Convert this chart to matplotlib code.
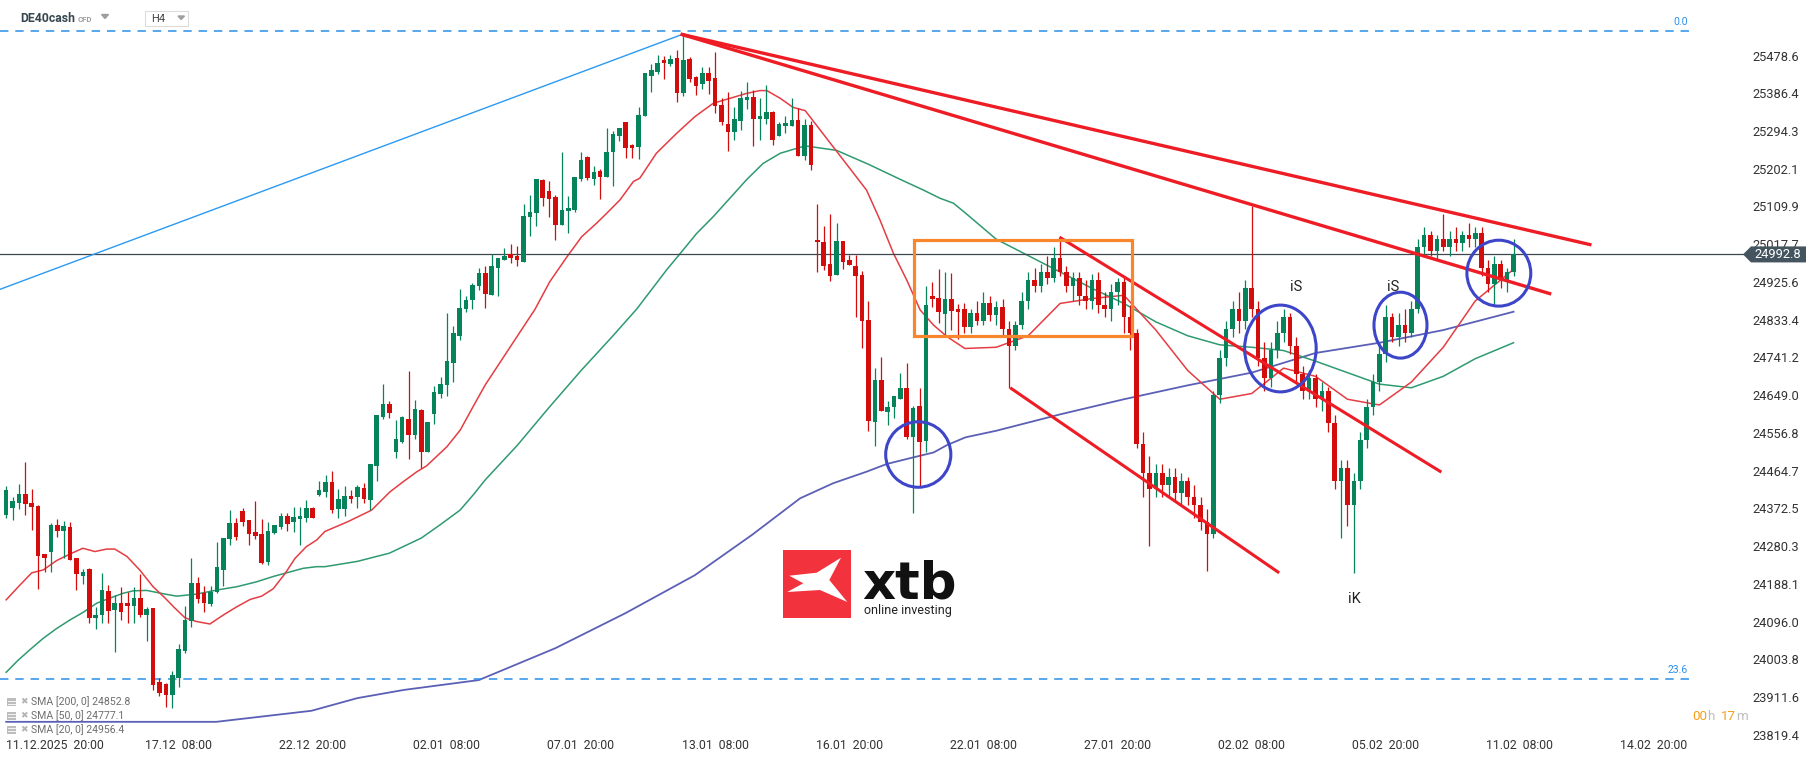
import matplotlib
matplotlib.use("Agg")
import matplotlib.pyplot as plt
from matplotlib.patches import Rectangle, Ellipse, Polygon
import numpy as np

# ---------------- data ----------------
open_ = [24356, 24374, 24386, 24408, 24386, 24378, 24261, 24266, 24332, 24316,
         24327, 24251, 24208, 24225, 24105, 24112, 24171, 24124, 24141, 24141,
         24135, 24154, 24112, 24128, 23948, 23943, 23917, 23959, 24025, 24098,
         24191, 24166, 24139, 24169, 24222, 24298, 24337, 24366, 24344, 24315,
         24310, 24241, 24312, 24328, 24355, 24338, 24347, 24350, 24373, 24405,
         24413, 24436, 24372, 24370, 24403, 24399, 24421, 24393, 24477, 24596,
         24627, 24509, 24534, 24591, 24552, 24613, 24511, 24603, 24653, 24675,
         24728, 24794, 24860, 24882, 24916, 24947, 24894, 24960, 24979, 24995,
         24989, 24975, 25085, 25095, 25175, 25148, 25133, 25065, 25100, 25101,
         25177, 25231, 25177, 25197, 25182, 25243, 25281, 25316, 25260, 25255,
         25331, 25429, 25439, 25468, 25458, 25473, 25388, 25470, 25426, 25408,
         25436, 25424, 25358, 25311, 25293, 25319, 25370, 25377, 25324, 25324,
         25341, 25282, 25307, 25307, 25321, 25234, 25309, 25028, 25024, 24969,
         24943, 25026, 24978, 24965, 24943, 24833, 24584, 24686, 24609, 24621,
         24640, 24667, 24548, 24623, 24538, 24891, 24886, 24848, 24884, 24860,
         24860, 24816, 24850, 24830, 24875, 24845, 24865, 24810, 24770, 24820,
         24880, 24930, 24915, 24950, 24935, 24985, 24950, 24915, 24935, 24890,
         24880, 24930, 24870, 24860, 24900, 24925, 24840, 24800, 24530, 24460,
         24420, 24460, 24430, 24450, 24410, 24440, 24400, 24380, 24340, 24310,
         24650, 24740, 24810, 24860, 24830, 24910, 24860, 24740, 24690, 24760,
         24800, 24840, 24770, 24700, 24660, 24690, 24640, 24660, 24580, 24440,
         24470, 24380, 24440, 24540, 24620, 24680, 24750, 24840, 24790, 24820,
         24800, 24860, 25010, 25040, 25000, 25030, 25010, 25030, 25020, 25040,
         25030, 25045, 24960, 24920, 24970, 24930, 24950]
high = [24426, 24401, 24432, 24486, 24419, 24381, 24262, 24336, 24346, 24341,
        24340, 24252, 24224, 24226, 24132, 24214, 24185, 24161, 24180, 24167,
        24180, 24212, 24131, 24129, 23957, 23947, 23974, 24041, 24134, 24252,
        24206, 24183, 24183, 24291, 24300, 24369, 24349, 24374, 24345, 24390,
        24347, 24339, 24333, 24362, 24361, 24376, 24375, 24393, 24376, 24439,
        24454, 24464, 24420, 24427, 24417, 24430, 24434, 24482, 24601, 24676,
        24635, 24588, 24598, 24708, 24637, 24614, 24584, 24671, 24694, 24849,
        24818, 24909, 24890, 24923, 24960, 24965, 24995, 24984, 25008, 25018,
        25013, 25116, 25138, 25178, 25176, 25172, 25138, 25243, 25136, 25183,
        25243, 25232, 25210, 25202, 25302, 25295, 25302, 25317, 25263, 25353,
        25437, 25458, 25480, 25478, 25480, 25492, 25531, 25475, 25429, 25451,
        25451, 25487, 25374, 25390, 25353, 25392, 25414, 25395, 25375, 25407,
        25342, 25316, 25331, 25375, 25351, 25324, 25318, 25116, 25062, 25092,
        25070, 25026, 24991, 24991, 24952, 24879, 24715, 24743, 24635, 24647,
        24704, 24728, 24623, 24667, 24916, 24926, 24957, 24950, 24947, 24872,
        24875, 24860, 24880, 24900, 24890, 24880, 24885, 24830, 24830, 24900,
        24950, 24960, 24970, 24990, 25010, 25035, 24965, 24950, 24950, 24930,
        24945, 24950, 24900, 24920, 24935, 24940, 24870, 24810, 24560, 24500,
        24480, 24480, 24470, 24470, 24460, 24450, 24430, 24400, 24370, 24660,
        24760, 24830, 24880, 24900, 24930, 25110, 24880, 24780, 24780, 24830,
        24860, 24850, 24790, 24720, 24710, 24700, 24680, 24670, 24600, 24490,
        24490, 24460, 24560, 24640, 24700, 24780, 24870, 24850, 24850, 24860,
        24880, 25030, 25060, 25050, 25040, 25091, 25050, 25060, 25050, 25070,
        25060, 25060, 24980, 24990, 24980, 24960, 25030]
low = [24348, 24344, 24370, 24356, 24320, 24175, 24218, 24218, 24303, 24250,
       24247, 24173, 24188, 24092, 24078, 24092, 24093, 24022, 24100, 24093,
       24093, 24108, 24049, 23929, 23913, 23886, 23884, 23937, 24020, 24083,
       24142, 24120, 24134, 24166, 24183, 24283, 24294, 24329, 24283, 24298,
       24237, 24233, 24310, 24322, 24317, 24315, 24283, 24338, 24348, 24403,
       24401, 24360, 24350, 24355, 24385, 24374, 24386, 24368, 24440, 24590,
       24594, 24496, 24531, 24493, 24542, 24470, 24510, 24579, 24642, 24647,
       24682, 24784, 24851, 24860, 24906, 24861, 24893, 24890, 24978, 24971,
       24965, 24974, 25038, 25062, 25112, 25085, 25028, 25064, 25044, 25096,
       25172, 25175, 25162, 25128, 25181, 25160, 25270, 25228, 25228, 25226,
       25330, 25390, 25433, 25421, 25454, 25364, 25381, 25414, 25383, 25397,
       25385, 25339, 25310, 25246, 25273, 25297, 25347, 25258, 25272, 25311,
       25260, 25281, 25290, 25306, 25233, 25224, 25200, 24951, 24955, 24929,
       24942, 24956, 24967, 24841, 24763, 24562, 24526, 24611, 24576, 24592,
       24640, 24541, 24362, 24426, 24511, 24865, 24825, 24797, 24807, 24785,
       24800, 24800, 24820, 24820, 24830, 24820, 24790, 24667, 24760, 24810,
       24860, 24900, 24900, 24920, 24925, 24940, 24900, 24880, 24870, 24860,
       24860, 24850, 24840, 24830, 24870, 24800, 24760, 24520, 24400, 24280,
       24400, 24400, 24400, 24390, 24380, 24380, 24350, 24320, 24220, 24300,
       24630, 24720, 24790, 24800, 24810, 24840, 24720, 24660, 24670, 24740,
       24780, 24750, 24680, 24640, 24640, 24620, 24610, 24560, 24420, 24300,
       24330, 24215, 24420, 24520, 24600, 24660, 24730, 24780, 24770, 24780,
       24790, 24850, 24990, 24990, 24980, 25000, 24990, 25000, 25000, 25010,
       25010, 24940, 24900, 24870, 24910, 24900, 24940]
close = [24417, 24391, 24408, 24383, 24377, 24256, 24252, 24332, 24318, 24329,
         24247, 24211, 24216, 24104, 24112, 24173, 24122, 24141, 24120, 24135,
         24154, 24112, 24127, 23941, 23921, 23917, 23965, 24029, 24100, 24191,
         24151, 24142, 24169, 24230, 24300, 24337, 24303, 24338, 24311, 24306,
         24238, 24317, 24332, 24354, 24334, 24351, 24354, 24373, 24350, 24417,
         24436, 24368, 24395, 24403, 24396, 24424, 24395, 24481, 24601, 24627,
         24605, 24542, 24595, 24552, 24615, 24511, 24583, 24657, 24676, 24732,
         24801, 24862, 24882, 24918, 24947, 24896, 24965, 24983, 24990, 24985,
         24978, 25087, 25096, 25177, 25131, 25129, 25065, 25101, 25106, 25182,
         25224, 25180, 25194, 25182, 25243, 25287, 25302, 25253, 25253, 25333,
         25436, 25443, 25461, 25461, 25470, 25388, 25468, 25421, 25403, 25436,
         25417, 25356, 25317, 25293, 25324, 25375, 25377, 25324, 25331, 25341,
         25272, 25311, 25314, 25321, 25234, 25309, 25212, 25022, 24965, 24940,
         25026, 24975, 24967, 24939, 24829, 24587, 24686, 24611, 24620, 24647,
         24667, 24548, 24618, 24535, 24869, 24883, 24851, 24884, 24855, 24853,
         24816, 24850, 24830, 24875, 24845, 24865, 24810, 24770, 24820, 24880,
         24930, 24915, 24950, 24935, 24985, 24950, 24915, 24935, 24890, 24880,
         24930, 24870, 24860, 24900, 24925, 24840, 24800, 24530, 24460, 24420,
         24460, 24430, 24450, 24410, 24440, 24400, 24380, 24340, 24310, 24650,
         24740, 24810, 24860, 24830, 24910, 24860, 24740, 24690, 24760, 24800,
         24840, 24770, 24700, 24660, 24690, 24640, 24660, 24580, 24440, 24470,
         24380, 24440, 24540, 24620, 24680, 24750, 24840, 24790, 24820, 24800,
         24860, 25010, 25040, 25000, 25030, 25010, 25030, 25020, 25040, 25030,
         25045, 24960, 24920, 24970, 24930, 24950, 24992.8]

# moving averages (candle index, value)
sma20_x = [0, 1.9, 4, 5.8, 7.9, 10, 12, 13.9, 15.7, 17, 18.9, 20.9, 23, 24.9, 26.2, 28, 29.8,
           31.9, 34, 36.1, 38.2, 40, 41.8, 43.7, 45.2, 47, 48.6, 49.9, 53.5, 57.2, 60.1, 62.2,
           64.3, 65.8, 69, 71.1, 73.1, 75, 82.8, 85.1, 87.8, 90.1, 92.5, 94, 96.1, 98.2, 99.2,
           101.8, 105, 107.8, 110.7, 113.3, 115.9, 118, 119.1, 121.2, 123.2, 125.1, 130, 134.7,
           136.8, 138.9, 141, 143.1, 145.2, 147.3, 150.1, 155, 160, 165, 170, 175, 180, 185,
           190, 195, 200, 205, 210, 215, 220, 225, 230, 236]
sma20_y = [24149, 24181, 24215, 24222, 24245, 24261, 24275, 24267, 24273, 24273, 24255, 24222,
           24181, 24153, 24132, 24105, 24096, 24090, 24112, 24132, 24150, 24158, 24176, 24214,
           24250, 24279, 24295, 24316, 24340, 24368, 24413, 24438, 24462, 24476, 24523, 24564,
           24621, 24674, 24859, 24926, 24987, 25036, 25070, 25093, 25126, 25171, 25179, 25240,
           25289, 25329, 25362, 25374, 25386, 25393, 25393, 25374, 25352, 25344, 25245, 25150,
           25077, 24996, 24930, 24857, 24820, 24792, 24763, 24766, 24794, 24873, 24885, 24893,
           24808, 24709, 24639, 24653, 24715, 24695, 24639, 24625, 24681, 24766, 24879, 24956.4]
sma50_x = [0, 1.9, 4, 5.8, 7.9, 10, 12, 14.2, 16.2, 18.3, 19.9, 22, 23.6, 24.9, 26.7, 29.8, 33,
           36.1, 39.2, 41.8, 43.9, 46.5, 48.6, 49.9, 55, 60, 65, 68, 71.05, 73.1, 75, 80, 85, 90,
           95, 98.7, 101.1, 103.4, 106, 108.1, 110.7, 113.3, 115.9, 118.5, 121.2, 123.8, 125.1,
           130, 135, 140, 143.6, 146.2, 148.3, 150.1, 155, 160, 165, 170, 175, 180, 185, 190,
           195, 200, 205, 210, 215, 220, 225, 230, 236]
sma50_y = [23972, 24002, 24031, 24055, 24079, 24100, 24118, 24141, 24153, 24165, 24171, 24172,
           24167, 24163, 24158, 24163, 24173, 24181, 24193, 24206, 24215, 24226, 24230, 24230,
           24243, 24263, 24300, 24333, 24368, 24405, 24442, 24526, 24619, 24709, 24794, 24859,
           24908, 24955, 25004, 25044, 25085, 25130, 25175, 25215, 25240, 25252, 25258, 25247,
           25213, 25176, 25150, 25130, 25118, 25095, 25030, 24990, 24950, 24910, 24873, 24828,
           24794, 24772, 24766, 24758, 24732, 24704, 24676, 24667, 24695, 24738, 24777.1]
sma200_x = [0, 32.9, 47.8, 55, 62.3, 74, 86, 96.9, 107.8, 116.8, 124.3, 129.5, 134.7, 137.9,
            141.5, 145.2, 147.3, 150.2, 155, 165, 175, 185, 195, 205, 215, 225, 236]
sma200_y = [23851, 23851, 23878, 23909, 23929, 23953, 24031, 24116, 24209, 24308, 24397, 24434,
            24462, 24481, 24495, 24509, 24527, 24546, 24562, 24602, 24639, 24673, 24704, 24752,
            24777, 24808, 24852.8]

sma_names = ["SMA [200, 0]", "SMA [50, 0]", "SMA [20, 0]"]

# analysis drawings (candle index, price)
trend_blue = ([-5, 105.8], [24884, 25530])
fan_red_1 = ([105.6, 248.2], [25531, 25016])
fan_red_2 = ([105.6, 241.9], [25531, 24896])
channel_up = ([164.9, 224.7], [25035, 24461])
channel_dn = ([157.2, 199.3], [24667, 24215])
box_orange = (142.2, 176.3, 24794, 25027)
circles = [(142.8, 24504, 10.2, 160), (199.5, 24763, 11.2, 212),
           (218.3, 24820, 8.3, 161), (233.7, 24947, 10.0, 161)]
marks = [("iS", 202.0, 24912), ("iS", 217.1, 24912), ("iK", 211.1, 24152)]
fib_levels = [25537.4, 23955.6]
fib_labels = ["0.0", "23.6"]
last_price = 24992.8

xtick_pos = [0, 27, 48, 69, 90, 111, 132, 153, 174, 195, 216, 237, 258]
xtick_lab = ["11.12.2025  20:00", "17.12  08:00", "22.12  20:00", "02.01  08:00", "07.01  20:00",
             "13.01  08:00", "16.01  20:00", "22.01  08:00", "27.01  20:00", "02.02  08:00",
             "05.02  20:00", "11.02  08:00", "14.02  20:00"]
ytick_vals = [25478.6, 25386.4, 25294.3, 25202.1, 25109.9, 25017.7, 24925.6, 24833.4, 24741.2,
              24649.0, 24556.8, 24464.7, 24372.5, 24280.3, 24188.1, 24096.0, 24003.8, 23911.6,
              23819.4]

# ---------------- style / layout ----------------
GREEN = "#06835a"
RED = "#d30c0c"
W, H = 1815, 761
X0, DX = 6.2, 6.387
P_TOP, P_BOT = 25614.3, 23755.3
AX_RIGHT = 1745

plt.rcParams["font.family"] = ["Roboto", "DejaVu Sans"]

fig = plt.figure(figsize=(W / 100, H / 100), dpi=100)
fig.patch.set_facecolor("white")
ax = fig.add_axes([0, 0, AX_RIGHT / W, 1])
ax.set_xlim((0 - X0) / DX, (AX_RIGHT - X0) / DX)
ax.set_ylim(P_BOT, P_TOP)
for s in ax.spines.values():
    s.set_visible(False)

o = np.array(open_, float); h = np.array(high, float)
l = np.array(low, float); c = np.array(close, float)
idx = np.arange(len(c))
cols = np.where(c >= o, GREEN, RED)

# SMAs
ax.plot(sma200_x, sma200_y, color="#5b60b6", lw=1.3, zorder=2)
ax.plot(sma50_x, sma50_y, color="#2f9a70", lw=1.1, zorder=2)
ax.plot(sma20_x, sma20_y, color="#e43d43", lw=1.1, zorder=2)

# candles
ax.vlines(idx, l, h, colors=cols, lw=0.9, zorder=3)
ax.bar(idx, np.maximum(np.abs(c - o), 2.0), bottom=np.minimum(o, c), width=0.72,
       color=cols, linewidth=0, zorder=4)

# fib levels
for lv in fib_levels:
    ax.hlines(lv, (0 - X0) / DX, 263.6, colors="#2a8fe8", lw=1.1,
              linestyles=(0, (5.5, 4.5)), zorder=2)

# current price line
ax.axhline(last_price, color="#3b4850", lw=0.9, zorder=2.5)

# drawings
ax.plot(*trend_blue, color="#2b9af3", lw=1.0, zorder=5)
ax.plot(*fan_red_1, color="#ee1c25", lw=2.4, zorder=6, solid_capstyle="butt")
ax.plot(*fan_red_2, color="#ee1c25", lw=2.4, zorder=6, solid_capstyle="butt")
ax.plot(*channel_up, color="#ee1c25", lw=2.2, zorder=6, solid_capstyle="butt")
ax.plot(*channel_dn, color="#ee1c25", lw=2.2, zorder=6, solid_capstyle="butt")
bx0, bx1, by0, by1 = box_orange
ax.add_patch(Rectangle((bx0, by0), bx1 - bx0, by1 - by0, fill=False,
                       edgecolor="#f7862c", lw=2.3, zorder=6))
for cx, cy, cw, ch in circles:
    ax.add_patch(Ellipse((cx, cy), cw, ch, fill=False, edgecolor="#3d45c8", lw=2.2, zorder=7))
for t, mx, my in marks:
    ax.text(mx, my, t, fontsize=10.5, color="#222222", ha="center", va="center", zorder=7)

# axes ticks
ax.set_xticks(xtick_pos, xtick_lab)
ax.tick_params(axis="x", length=0, pad=-15.5, labelsize=8.8, labelcolor="#333333")
ax.get_xticklabels()[0].set_horizontalalignment("left")
ax.yaxis.tick_right()
ax.set_yticks(ytick_vals, [f"{v:.1f}" for v in ytick_vals])
ax.tick_params(axis="y", length=0, pad=5, labelsize=9.3, labelcolor="#333333")

# ---------------- overlay (pixel coordinates) ----------------
ov = fig.add_axes([0, 0, 1, 1], zorder=5)
ov.set_xlim(0, W); ov.set_ylim(H, 0); ov.axis("off"); ov.patch.set_alpha(0)

def ypix(price):
    return H - ax.transData.transform((0, price))[1]

# price box
yc = ypix(last_price)
ov.add_patch(Polygon([(1743, yc), (1751, yc - 8), (1806, yc - 8), (1806, yc + 8), (1751, yc + 8)],
                     closed=True, facecolor="#455560", edgecolor="none"))
ov.text(1754, yc + 0.5, f"{last_price:.1f}", color="white", fontsize=9.3, ha="left", va="center")

# fib labels
for lv, lab in zip(fib_levels, fib_labels):
    ov.text(1688, ypix(lv) - 9, lab, color="#2a8fe8", fontsize=7.5, ha="right", va="center")

# header
ov.text(20, 18, "DE40cash", fontsize=8.8, fontweight="bold", color="#37474f", va="center")
ov.text(78, 19, "CFD", fontsize=5.6, fontweight="bold", color="#9e9e9e", va="center")
ov.add_patch(Polygon([(101.5, 14.5), (108.5, 14.5), (105, 18.5)], closed=True, color="#9e9e9e"))
ov.add_patch(Rectangle((145.5, 11), 43, 14.5, facecolor="white", edgecolor="#dcdcdc", lw=0.8))
ov.text(151, 18.8, "H4", fontsize=8.0, color="#444444", va="center")
ov.add_patch(Polygon([(178, 16), (184.5, 16), (181.2, 19.5)], closed=True, color="#9e9e9e"))

# legend
leg_vals = [sma200_y[-1], sma50_y[-1], sma20_y[-1]]
for k, (nm, v) in enumerate(zip(sma_names, leg_vals)):
    yy = 702 + 13.8 * k
    ov.add_patch(Rectangle((7, yy - 4), 9, 8, facecolor="#bdbdbd", edgecolor="none"))
    for dy in (-1.5, 1.5):
        ov.plot([8, 15], [yy + dy, yy + dy], color="white", lw=0.6)
    ov.text(23.5, yy, "\u2716", fontsize=6.5, color="#b5b5b5", ha="center", va="center",
            family="DejaVu Sans")
    ov.text(31, yy, f"{nm} {v:.1f}", fontsize=7.6, color="#6e6e6e", va="center")

# countdown
for txt, xx, colr in [("00", 1692, "#f5a01a"), ("h", 1707.5, "#bdbdbd"),
                      ("17", 1721, "#f5a01a"), ("m", 1736.5, "#bdbdbd")]:
    ov.text(xx, 716, txt, fontsize=9.6, color=colr, va="center", ha="left")

# xtb logo
ov.add_patch(Rectangle((783.5, 550), 68, 68, facecolor="#f2333e", edgecolor="none"))
ov.add_patch(Polygon([(789.3, 575.7), (816.7, 572.7), (841, 557.7), (829.3, 580),
                      (847.3, 602), (820, 590), (787.3, 592), (803.3, 583.3)],
                     closed=True, facecolor="white", edgecolor="none"))
ov.text(862, 598.5, "xtb", fontsize=37, fontweight="bold", color="#111111", va="baseline",
        ha="left", family="DejaVu Sans")
ov.text(864, 610.5, "online investing", fontsize=9.0, color="#222222", va="center", ha="left")

fig.savefig("out.png", dpi=100, facecolor="white")
